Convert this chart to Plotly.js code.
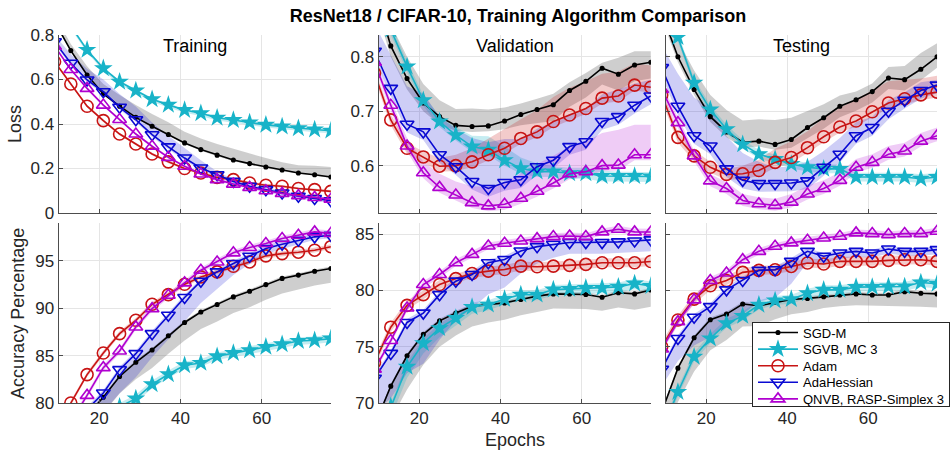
<!DOCTYPE html>
<html>
<head>
<meta charset="utf-8">
<script src="https://cdn.plot.ly/plotly-3.0.1.min.js"></script>
<style>html,body{margin:0;padding:0;background:#fff;}#chart{width:950px;height:455px;}</style>
</head>
<body>
<div id="chart"></div>
<script>
// ---------- DATA ----------
const epochs = [9,13,17,21,25,29,33,37,41,45,49,53,57,61,65,69,73,77];
const seriesNames = ['SGD-M','SGVB, MC 3','Adam','AdaHessian','QNVB, RASP-Simplex 3'];
const panelTitles = ['Training','Validation','Testing'];
const xTicks = [20,40,60];

// Loss, training
const lossTrain = [
  [0.86,0.73,0.62,0.535,0.48,0.43,0.39,0.353,0.315,0.285,0.26,0.238,0.222,0.207,0.193,0.18,0.172,0.162],
  [0.96,0.84,0.733,0.65,0.59,0.55,0.511,0.486,0.463,0.448,0.428,0.418,0.407,0.396,0.389,0.381,0.375,0.37],
  [0.68,0.58,0.48,0.415,0.355,0.31,0.265,0.23,0.2,0.18,0.16,0.15,0.135,0.125,0.12,0.11,0.105,0.097],
  [0.77,0.673,0.598,0.545,0.475,0.419,0.352,0.297,0.247,0.202,0.172,0.142,0.12,0.105,0.09,0.075,0.065,0.055],
  [0.75,0.645,0.56,0.485,0.42,0.355,0.3,0.25,0.21,0.175,0.15,0.13,0.115,0.1,0.088,0.078,0.07,0.062]
];
const lossTrainUp = [
  [0.03,0.03,0.04,0.045,0.05,0.055,0.055,0.055,0.05,0.05,0.05,0.05,0.045,0.04,0.035,0.035,0.04,0.045],
  [0.006,0.006,0.006,0.006,0.006,0.006,0.006,0.006,0.006,0.006,0.006,0.006,0.006,0.006,0.006,0.006,0.006,0.006],
  [0.006,0.006,0.006,0.006,0.006,0.006,0.006,0.006,0.006,0.006,0.006,0.006,0.006,0.006,0.006,0.006,0.006,0.006],
  [0.03,0.04,0.05,0.055,0.06,0.06,0.055,0.05,0.045,0.035,0.015,0.01,0.01,0.01,0.01,0.01,0.01,0.01],
  [0.006,0.006,0.006,0.006,0.006,0.006,0.006,0.006,0.006,0.006,0.006,0.006,0.006,0.006,0.006,0.006,0.006,0.006]
];
const lossTrainDown = [
  [0.005,0.005,0.005,0.005,0.005,0.005,0.005,0.005,0.005,0.005,0.005,0.005,0.005,0.005,0.005,0.005,0.005,0.005],
  [0.012,0.012,0.012,0.012,0.012,0.012,0.012,0.012,0.012,0.012,0.012,0.012,0.012,0.012,0.012,0.012,0.012,0.012],
  [0.006,0.006,0.006,0.006,0.006,0.006,0.006,0.006,0.006,0.006,0.006,0.006,0.006,0.006,0.006,0.006,0.006,0.006],
  [0.01,0.01,0.01,0.01,0.01,0.01,0.01,0.01,0.01,0.01,0.01,0.01,0.01,0.01,0.01,0.01,0.01,0.01],
  [0.006,0.006,0.006,0.006,0.006,0.006,0.006,0.006,0.006,0.006,0.006,0.006,0.006,0.006,0.006,0.006,0.006,0.006]
];

// Loss, validation
const lossVal = [
  [0.92,0.82,0.76,0.715,0.69,0.674,0.672,0.673,0.682,0.694,0.703,0.712,0.738,0.755,0.779,0.768,0.785,0.79],
  [1.0,0.85,0.782,0.72,0.681,0.656,0.635,0.629,0.61,0.595,0.589,0.589,0.586,0.586,0.581,0.581,0.581,0.58],
  [0.77,0.684,0.632,0.616,0.599,0.6,0.607,0.62,0.632,0.65,0.662,0.681,0.693,0.705,0.724,0.728,0.748,0.744],
  [0.81,0.742,0.676,0.662,0.62,0.598,0.571,0.558,0.569,0.574,0.598,0.61,0.635,0.644,0.681,0.69,0.711,0.728],
  [0.79,0.711,0.636,0.587,0.56,0.546,0.532,0.526,0.529,0.54,0.553,0.568,0.585,0.589,0.6,0.601,0.62,0.62]
];
const lossValUp = [
  [0.04,0.04,0.04,0.035,0.03,0.03,0.033,0.03,0.025,0.02,0.02,0.02,0.015,0.015,0.01,0.03,0.025,0.02],
  [0.01,0.01,0.01,0.01,0.01,0.015,0.02,0.025,0.025,0.02,0.015,0.01,0.01,0.01,0.01,0.008,0.008,0.008],
  [0.01,0.01,0.01,0.01,0.015,0.02,0.025,0.03,0.035,0.035,0.04,0.045,0.05,0.05,0.045,0.045,0.04,0.04],
  [0.05,0.06,0.07,0.07,0.07,0.07,0.08,0.085,0.08,0.075,0.07,0.07,0.06,0.06,0.05,0.05,0.04,0.03],
  [0.01,0.01,0.015,0.02,0.025,0.025,0.03,0.035,0.04,0.045,0.05,0.05,0.05,0.055,0.06,0.065,0.055,0.055]
];
const lossValDown = [
  [0.02,0.02,0.02,0.015,0.015,0.01,0.01,0.01,0.015,0.02,0.025,0.03,0.03,0.03,0.03,0.03,0.03,0.03],
  [0.01,0.01,0.01,0.01,0.01,0.01,0.01,0.01,0.01,0.01,0.01,0.01,0.01,0.01,0.01,0.01,0.01,0.01],
  [0.01,0.01,0.01,0.01,0.01,0.01,0.01,0.01,0.01,0.01,0.01,0.01,0.01,0.01,0.01,0.01,0.01,0.01],
  [0.015,0.015,0.015,0.015,0.015,0.015,0.015,0.015,0.015,0.015,0.015,0.015,0.015,0.015,0.015,0.015,0.015,0.015],
  [0.01,0.01,0.01,0.01,0.01,0.01,0.01,0.01,0.01,0.01,0.01,0.01,0.01,0.01,0.01,0.01,0.01,0.01]
];

// Loss, testing
const lossTest = [
  [0.88,0.8,0.74,0.69,0.662,0.643,0.645,0.639,0.648,0.67,0.688,0.709,0.721,0.736,0.761,0.758,0.777,0.8],
  [0.96,0.836,0.752,0.703,0.667,0.639,0.621,0.612,0.603,0.597,0.594,0.594,0.579,0.579,0.579,0.579,0.576,0.579],
  [0.73,0.652,0.618,0.597,0.584,0.585,0.591,0.606,0.615,0.633,0.653,0.671,0.682,0.699,0.715,0.723,0.73,0.735],
  [0.78,0.709,0.655,0.636,0.594,0.573,0.567,0.567,0.568,0.572,0.597,0.621,0.655,0.67,0.7,0.72,0.738,0.748],
  [0.74,0.679,0.618,0.572,0.558,0.536,0.53,0.527,0.533,0.548,0.558,0.573,0.597,0.606,0.621,0.627,0.645,0.655]
];
const lossTestUp = [
  [0.03,0.03,0.035,0.04,0.04,0.04,0.04,0.045,0.04,0.03,0.025,0.02,0.015,0.015,0.02,0.025,0.03,0.025],
  [0.008,0.008,0.008,0.008,0.008,0.008,0.008,0.008,0.008,0.008,0.008,0.008,0.008,0.008,0.008,0.008,0.008,0.008],
  [0.01,0.01,0.01,0.01,0.01,0.015,0.02,0.025,0.03,0.03,0.035,0.035,0.04,0.04,0.04,0.035,0.03,0.03],
  [0.04,0.06,0.07,0.07,0.06,0.05,0.04,0.03,0.03,0.035,0.03,0.03,0.025,0.02,0.02,0.015,0.015,0.01],
  [0.01,0.01,0.01,0.012,0.012,0.012,0.012,0.012,0.015,0.015,0.015,0.015,0.015,0.015,0.015,0.015,0.015,0.015]
];
const lossTestDown = [
  [0.01,0.01,0.01,0.01,0.01,0.01,0.01,0.01,0.015,0.02,0.02,0.02,0.02,0.02,0.02,0.02,0.02,0.02],
  [0.008,0.008,0.008,0.008,0.008,0.008,0.008,0.008,0.008,0.008,0.008,0.008,0.008,0.008,0.008,0.008,0.008,0.008],
  [0.01,0.01,0.01,0.01,0.01,0.01,0.01,0.01,0.01,0.01,0.01,0.01,0.01,0.01,0.01,0.01,0.01,0.01],
  [0.015,0.015,0.015,0.015,0.015,0.015,0.015,0.015,0.015,0.015,0.015,0.015,0.015,0.015,0.015,0.015,0.015,0.015],
  [0.01,0.01,0.01,0.01,0.01,0.01,0.01,0.01,0.01,0.01,0.01,0.01,0.01,0.01,0.01,0.01,0.01,0.01]
];

// Accuracy, training
const accTrain = [
  [75,77,78.7,80.6,82.8,84.3,85.6,87.1,88.5,89.6,90.4,91.2,91.8,92.5,93.15,93.5,93.9,94.2],
  [72,74,76,78,79.6,80.46,81.97,83.03,83.98,84.23,84.93,85.28,85.56,85.92,86.2,86.55,86.62,86.8],
  [76,80.0,83.0,85.28,87.32,88.73,90.42,91.44,92.54,93.31,93.84,94.44,94.89,95.53,95.77,95.92,96.13,96.5],
  [74.5,77,79.3,81.06,83.52,85.21,87.32,89.26,91.13,92.85,93.84,94.72,95.49,96.3,96.76,97.18,97.54,97.7],
  [75.5,78,80.8,83.73,85.49,88.03,89.96,91.37,92.68,94.01,94.89,95.85,96.41,96.83,97.36,97.71,98.06,97.9]
];
const accTrainUp = [
  [0.2,0.2,0.2,0.2,0.2,0.2,0.2,0.2,0.2,0.2,0.2,0.2,0.2,0.2,0.2,0.2,0.2,0.2],
  [0.4,0.4,0.4,0.4,0.4,0.4,0.4,0.4,0.4,0.4,0.4,0.4,0.4,0.4,0.4,0.4,0.4,0.4],
  [0.25,0.25,0.25,0.25,0.25,0.25,0.25,0.25,0.25,0.25,0.25,0.25,0.25,0.25,0.25,0.25,0.25,0.25],
  [0.3,0.3,0.3,0.3,0.3,0.3,0.3,0.3,0.3,0.3,0.3,0.3,0.3,0.3,0.3,0.3,0.3,0.3],
  [0.3,0.3,0.3,0.3,0.3,0.3,0.3,0.3,0.3,0.3,0.3,0.3,0.3,0.3,0.3,0.3,0.3,0.3]
];
const accTrainDown = [
  [1.5,1.5,1.6,1.7,1.8,1.8,1.9,1.9,1.9,1.8,1.8,1.7,1.7,1.6,1.6,1.5,1.5,1.5],
  [0.4,0.4,0.4,0.4,0.4,0.4,0.4,0.4,0.4,0.4,0.4,0.4,0.4,0.4,0.4,0.4,0.4,0.4],
  [0.25,0.25,0.25,0.25,0.25,0.25,0.25,0.25,0.25,0.25,0.25,0.25,0.25,0.25,0.25,0.25,0.25,0.25],
  [1,1.2,1.5,2,2.5,2.5,2.5,2.5,2.5,2.3,1.8,1.2,0.8,0.6,0.5,0.4,0.3,0.3],
  [0.3,0.3,0.3,0.3,0.3,0.3,0.3,0.3,0.3,0.3,0.3,0.3,0.3,0.3,0.3,0.3,0.3,0.3]
];

// Accuracy, validation
const accVal = [
  [68,71.5,74.2,76.1,77.3,78.0,78.6,78.75,78.9,79.2,79.5,79.7,79.7,79.65,79.4,79.8,79.7,80.05],
  [66,69.7,73.22,75.31,76.65,77.55,78.53,78.74,79.25,79.63,79.63,80.08,80.14,80.23,80.23,80.32,80.62,80.4],
  [73.6,76.74,78.68,79.63,80.53,81.06,81.51,81.72,81.87,82.17,82.11,82.17,82.23,82.32,82.47,82.47,82.47,82.58],
  [72.2,74.41,77.16,77.99,79.63,80.83,81.42,82.47,82.76,83.51,83.9,84.11,84.26,84.26,84.26,84.32,84.4,84.5],
  [73,75.55,78.44,80.53,81.42,82.47,83.21,83.96,84.2,84.4,84.61,84.79,84.85,84.79,85.21,85.45,85.21,85.2]
];
const accValUp = [
  [0.2,0.2,0.2,0.2,0.2,0.2,0.2,0.2,0.2,0.2,0.2,0.2,0.2,0.2,0.2,0.2,0.2,0.2],
  [0.4,0.4,0.4,0.4,0.4,0.4,0.4,0.4,0.4,0.4,0.4,0.4,0.4,0.4,0.4,0.4,0.4,0.4],
  [0.4,0.4,0.4,0.4,0.4,0.4,0.4,0.4,0.4,0.4,0.4,0.4,0.4,0.4,0.4,0.4,0.4,0.4],
  [0.3,0.3,0.3,0.3,0.3,0.3,0.3,0.3,0.3,0.3,0.3,0.3,0.3,0.3,0.3,0.3,0.3,0.3],
  [0.3,0.3,0.3,0.3,0.3,0.3,0.3,0.3,0.3,0.3,0.3,0.3,0.3,0.3,0.3,0.3,0.3,0.3]
];
const accValDown = [
  [3,3,3,2.7,2.3,2,1.8,1.6,1.5,1.4,1.4,1.3,1.3,1.3,1.2,1.3,1.4,1.5],
  [1,1,1,0.9,0.8,0.7,0.6,0.5,0.5,0.5,0.5,0.5,0.5,0.5,0.5,0.5,0.5,0.5],
  [0.4,0.4,0.4,0.4,0.4,0.4,0.4,0.4,0.4,0.4,0.4,0.4,0.4,0.4,0.4,0.4,0.4,0.4],
  [3,4,4.5,4.5,4,3.5,3,2.8,2.5,2,1.5,1.2,1,1,1,1,1,1],
  [0.3,0.3,0.3,0.3,0.3,0.3,0.3,0.3,0.3,0.3,0.3,0.3,0.3,0.3,0.3,0.3,0.3,0.3]
];

// Accuracy, testing
const accTest = [
  [69.2,73.1,75.8,77.4,77.9,78.8,78.65,78.95,79.2,79.3,79.45,79.6,79.7,79.6,79.6,79.9,79.75,79.7],
  [67.5,70.98,74.11,75.74,77.08,77.74,78.72,79.11,79.23,79.76,80.06,80.06,80.3,80.3,80.36,80.36,80.71,80.6],
  [75,77.38,79.23,80.42,80.89,81.61,81.79,81.85,82.14,82.44,82.35,82.59,82.59,82.59,82.68,82.74,82.74,82.59],
  [73,75.74,77.62,78.57,80.06,80.89,81.79,81.85,82.59,83.48,83.04,83.33,83.48,83.33,83.69,83.48,83.48,83.63],
  [74.8,77.23,79.17,80.89,81.55,82.74,83.48,83.93,84.23,84.46,84.67,84.82,85.12,85.06,84.97,85.06,85.06,85.27]
];
const accTestUp = [
  [0.2,0.2,0.2,0.2,0.2,0.2,0.2,0.2,0.2,0.2,0.2,0.2,0.2,0.2,0.2,0.2,0.2,0.2],
  [0.4,0.4,0.4,0.4,0.4,0.4,0.4,0.4,0.4,0.4,0.4,0.4,0.4,0.4,0.4,0.4,0.4,0.4],
  [0.4,0.4,0.4,0.4,0.4,0.4,0.4,0.4,0.4,0.4,0.4,0.4,0.4,0.4,0.4,0.4,0.4,0.4],
  [0.3,0.3,0.3,0.3,0.3,0.3,0.3,0.3,0.3,0.3,0.3,0.3,0.3,0.3,0.3,0.3,0.3,0.3],
  [0.3,0.3,0.3,0.3,0.3,0.3,0.3,0.3,0.3,0.3,0.3,0.3,0.3,0.3,0.3,0.3,0.3,0.3]
];
const accTestDown = [
  [3,3,3,2.7,2.3,2,1.8,1.5,1.3,1.2,1,1,1,0.9,1,1.3,1.2,1.2],
  [0.4,0.4,0.4,0.4,0.4,0.4,0.4,0.4,0.4,0.4,0.4,0.4,0.4,0.4,0.4,0.4,0.4,0.4],
  [0.4,0.4,0.4,0.4,0.4,0.4,0.4,0.4,0.4,0.4,0.4,0.4,0.4,0.4,0.4,0.4,0.4,0.4],
  [1.5,2,2.5,2.7,3,3,2.8,2.5,2,1,0.7,0.5,0.5,0.4,0.4,0.4,0.4,0.4],
  [0.3,0.3,0.3,0.3,0.3,0.3,0.3,0.3,0.3,0.3,0.3,0.3,0.3,0.3,0.3,0.3,0.3,0.3]
];

// ---------- STYLE ----------
const lineColors = ['#000000','#18b3c8','#c81414','#0a0ad2','#b000d0'];
const bandColors = ['rgba(120,120,120,0.36)','rgba(24,179,200,0.25)','rgba(200,20,20,0.22)','rgba(10,10,210,0.2)','rgba(176,0,208,0.2)'];
const markerSymbols = ['circle','star','circle-open','triangle-down-open','triangle-up-open'];
const markerSizes = [3.5,14,12,12,12];

const W = 950, H = 455;
const colPx = [[59,333],[381,655],[670,943]];
const rowPx = [[35,213],[223,403]];
const dom = (a,b,tot) => [a/tot, b/tot];

const panels = [
  {m:lossTrain, u:lossTrainUp, d:lossTrainDown, row:0, col:0},
  {m:lossVal,   u:lossValUp,   d:lossValDown,   row:0, col:1},
  {m:lossTest,  u:lossTestUp,  d:lossTestDown,  row:0, col:2},
  {m:accTrain,  u:accTrainUp,  d:accTrainDown,  row:1, col:0},
  {m:accVal,    u:accValUp,    d:accValDown,    row:1, col:1},
  {m:accTest,   u:accTestUp,   d:accTestDown,   row:1, col:2}
];

const traces = [];
panels.forEach((p, idx) => {
  const xa = 'x' + (idx===0 ? '' : idx+1);
  const ya = 'y' + (idx===0 ? '' : idx+1);
  p.m.forEach((mean, s) => {
    const hi = mean.map((v,i) => v + p.u[s][i]);
    const lo = mean.map((v,i) => v - p.d[s][i]);
    traces.push({
      x: epochs.concat(epochs.slice().reverse()),
      y: hi.concat(lo.slice().reverse()),
      xaxis: xa, yaxis: ya, type: 'scatter', mode: 'lines',
      fill: 'toself', fillcolor: bandColors[s], line: {width: 0},
      hoverinfo: 'skip', showlegend: false
    });
  });
  p.m.forEach((mean, s) => {
    traces.push({
      x: epochs, y: mean, xaxis: xa, yaxis: ya, type: 'scatter', mode: 'lines+markers',
      name: seriesNames[s], showlegend: idx === 5,
      line: {color: lineColors[s], width: 1.6},
      marker: {symbol: markerSymbols[s], size: markerSizes[s], color: lineColors[s],
               line: {color: lineColors[s], width: s===1 ? 0 : 1.6}},
      cliponaxis: true
    });
  });
});

const axCommon = {
  showgrid: true, gridcolor: '#e5e5e5', gridwidth: 1,
  showline: true, linecolor: '#4d4d4d', linewidth: 1,
  ticks: 'inside', ticklen: 4, tickcolor: '#4d4d4d',
  zeroline: false, tickfont: {size: 17, color: '#262626'}
};
const yCfg = [
  {range:[0,0.8], tickvals:[0,0.2,0.4,0.6,0.8], ticktext:['0','0.2','0.4','0.6','0.8']},
  {range:[0.513,0.84], tickvals:[0.6,0.7,0.8], ticktext:['0.6','0.7','0.8']},
  {range:[0.513,0.84], tickvals:[0.6,0.7,0.8], ticktext:['','','']},
  {range:[80,99], tickvals:[80,85,90,95], ticktext:['80','85','90','95']},
  {range:[70,86], tickvals:[70,75,80,85], ticktext:['70','75','80','85']},
  {range:[70,86], tickvals:[70,75,80,85], ticktext:['','','','']}
];

const LEG_TOP = 322, LEG_BOTTOM = 407, LEG_ROW = 16.6;
const layout = {
  width: W, height: H,
  margin: {l:0, r:0, t:0, b:0},
  paper_bgcolor: '#ffffff', plot_bgcolor: '#ffffff',
  font: {family: 'Liberation Sans, Arial, sans-serif', color: '#262626'},
  title: {text: '<b>ResNet18 / CIFAR-10, Training Algorithm Comparison</b>',
          x: 518/W, xanchor: 'center', y: 1 - 16/H, yanchor: 'middle',
          font: {size: 18, color: '#000'}},
  showlegend: true,
  legend: {x: 757/W, y: 1 - LEG_TOP/H, xanchor: 'left', yanchor: 'top',
           bgcolor: '#ffffff', bordercolor: '#262626', borderwidth: 1,
           font: {size: 13, color: '#000'}, itemwidth: 40, tracegroupgap: 0},
  annotations: [],
  hovermode: false
};

panels.forEach((p, idx) => {
  const k = idx===0 ? '' : String(idx+1);
  const c = colPx[p.col], r = rowPx[p.row];
  layout['xaxis'+k] = Object.assign({}, axCommon, {
    domain: dom(c[0], c[1], W), range: [10, 77], tickvals: xTicks,
    ticktext: p.row===1 ? xTicks.map(String) : xTicks.map(()=>''),
    anchor: 'y'+k
  });
  layout['yaxis'+k] = Object.assign({}, axCommon, yCfg[idx], {
    domain: [1 - r[1]/H, 1 - r[0]/H], anchor: 'x'+k
  });
});

panelTitles.forEach((t, i) => {
  layout.annotations.push({text: t, xref:'paper', yref:'paper',
    x: (colPx[i][0]+colPx[i][1])/2/W, y: 1 - 46/H, xanchor:'center', yanchor:'middle',
    showarrow:false, font:{size:18, color:'#000'}});
});
layout.annotations.push({text:'Loss', xref:'paper', yref:'paper', x: 15/W, y: 1 - 124/H,
  xanchor:'center', yanchor:'middle', textangle:-90, showarrow:false, font:{size:18, color:'#262626'}});
layout.annotations.push({text:'Accuracy Percentage', xref:'paper', yref:'paper', x: 18/W, y: 1 - 313/H,
  xanchor:'center', yanchor:'middle', textangle:-90, showarrow:false, font:{size:18, color:'#262626'}});
layout.annotations.push({text:'Epochs', xref:'paper', yref:'paper', x: 518/W, y: 1 - 440/H,
  xanchor:'center', yanchor:'middle', showarrow:false, font:{size:18, color:'#262626'}});

Plotly.newPlot('chart', traces, layout, {displayModeBar: false, staticPlot: true}).then(gd => {
  // tighten legend row spacing to match the compact reference legend
  const leg = gd.querySelector('g.legend');
  if (!leg) return;
  const items = leg.querySelectorAll('g.traces');
  const re = /translate\(\s*([-\d.e]+)[ ,]+([-\d.e]+)\s*\)/;
  let x0 = null, y0 = null;
  items.forEach((g, i) => {
    const m = (g.getAttribute('transform') || '').match(re);
    if (!m) return;
    if (i === 0) { x0 = parseFloat(m[1]); y0 = 10.5; }
    g.setAttribute('transform', 'translate(' + parseFloat(m[1]) + ',' + (y0 + i*LEG_ROW) + ')');
  });
  const bg = leg.querySelector('rect.bg');
  if (bg) bg.setAttribute('height', LEG_BOTTOM - LEG_TOP - 1);
});
</script>
</body>
</html>
